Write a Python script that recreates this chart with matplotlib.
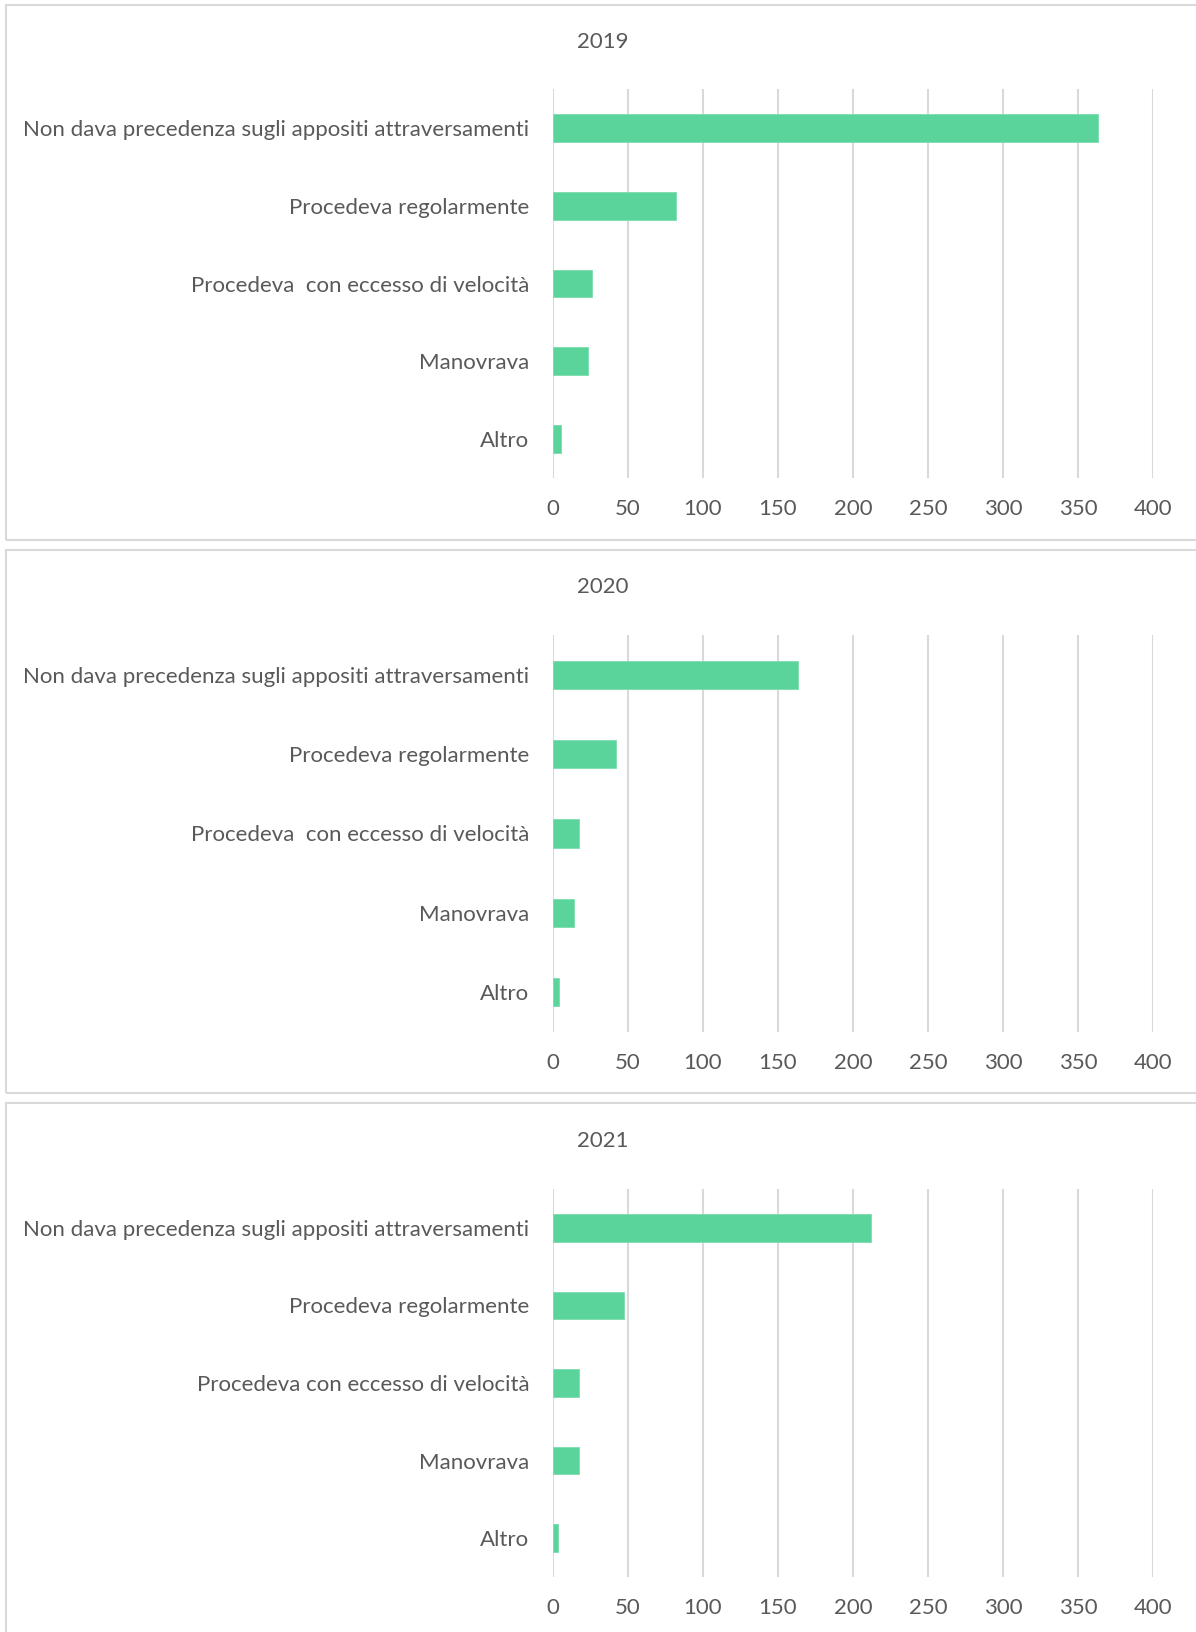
import matplotlib
matplotlib.use('Agg')
import matplotlib.pyplot as plt
from matplotlib.patches import Rectangle

# Data ========================================================================
categories = ['Non dava precedenza sugli appositi attraversamenti',
              'Procedeva regolarmente',
              'Procedeva  con eccesso di velocità',
              'Manovrava',
              'Altro']
categories_2021 = ['Non dava precedenza sugli appositi attraversamenti',
                   'Procedeva regolarmente',
                   'Procedeva con eccesso di velocità',
                   'Manovrava',
                   'Altro']
years = ['2019', '2020', '2021']
values_2019 = [363, 82, 26, 23, 5]
values_2020 = [163, 42, 17, 14, 4]
values_2021 = [212, 47, 17, 17, 3]
xticks = [0, 50, 100, 150, 200, 250, 300, 350, 400]

# Style =======================================================================
W, H = 1196, 1632
plt.rcParams['font.family'] = ['Lato', 'DejaVu Sans']
text_col = '#595959'
grid_col = '#D9D9D9'
bar_col = '#5BD49B'

fig = plt.figure(figsize=(W/100, H/100), dpi=100)

def fx(x): return x / W
def fy(y): return 1 - y / H

# panel frames (top, bottom in px)
frames = [(5, 540), (550, 1093), (1103, 1640)]
for top, bot in frames:
    fig.patches.append(Rectangle((fx(6), fy(bot)), fx(1250), (bot-top)/H,
                                 transform=fig.transFigure, fill=False,
                                 edgecolor=grid_col, lw=1.5, zorder=0))

# axes positions: (top, bottom, title y)
layout = [(89, 478, 42), (635, 1032, 587), (1189, 1577, 1141)]
data = [(values_2019, categories), (values_2020, categories), (values_2021, categories_2021)]

for (top, bot, ty), (vals, cats), year in zip(layout, data, years):
    ax = fig.add_axes([fx(553), fy(bot), (1153-553)/W, (bot-top)/H])
    ax.barh(range(len(cats)), vals, height=0.355, color=bar_col,
            edgecolor='#7BDDB0', lw=0.6, zorder=3)
    ax.set_xlim(0, 400)
    ax.set_ylim(len(cats)-0.5, -0.5)
    ax.set_xticks(xticks)
    ax.set_yticks(range(len(cats)))
    ax.set_yticklabels(cats)
    ax.grid(axis='x', color=grid_col, lw=1.5, zorder=0)
    for s in ax.spines.values():
        s.set_visible(False)
    ax.tick_params(axis='both', length=0, labelsize=16, labelcolor=text_col)
    ax.tick_params(axis='x', pad=15)
    ax.tick_params(axis='y', pad=17)
    fig.text(fx(603), fy(ty), year, ha='center', va='center',
             fontsize=16, color=text_col)

plt.savefig('out.png', dpi=100)
